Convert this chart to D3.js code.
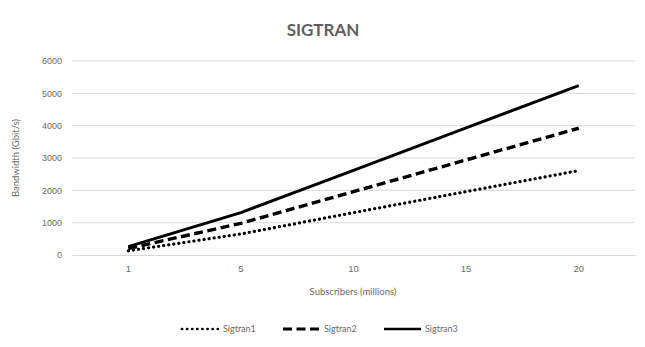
<!DOCTYPE html>
<html>
<head>
<meta charset="utf-8">
<script src="https://cdn.jsdelivr.net/npm/d3@7"></script>
<style>
  html, body { margin: 0; padding: 0; background: #ffffff; }
  svg { display: block; font-family: Lato, "Open Sans", sans-serif; }
</style>
</head>
<body>
<svg id="chart" width="645" height="347"></svg>
<script>
// Subscribers (millions) on the category axis
const categories = ["1", "5", "10", "15", "20"];
// Bandwidth per scenario (Gbit/s)
const sigtran1 = [130, 650, 1310, 1960, 2610];
const sigtran2 = [200, 980, 1960, 2940, 3920];
const sigtran3 = [260, 1310, 2620, 3930, 5240];
const yTicks = [0, 1000, 2000, 3000, 4000, 5000, 6000];
const seriesNames = ["Sigtran1", "Sigtran2", "Sigtran3"];

const series = [
  { name: seriesNames[0], values: sigtran1, dash: "0.1,5", width: 3.2, cap: "round" },
  { name: seriesNames[1], values: sigtran2, dash: "9,4.5", width: 3.4, cap: "butt" },
  { name: seriesNames[2], values: sigtran3, dash: null, width: 3, cap: "butt" }
];

const svg = d3.select("#chart");
const left = 72, plotRight = 635;

const x = d3.scaleBand().domain(categories).range([left, plotRight]);
const y = d3.scaleLinear().domain([0, 6000]).range([255, 61]);

const textColor = "#6b6b6b";

// Horizontal gridlines
svg.append("g")
  .selectAll("line")
  .data(yTicks.slice(1))
  .join("line")
  .attr("x1", left).attr("x2", plotRight)
  .attr("y1", d => y(d)).attr("y2", d => y(d))
  .attr("stroke", "#d9d9d9").attr("stroke-width", 1);

// Y axis labels
const yAxis = svg.append("g")
  .attr("transform", `translate(${left - 10},0)`)
  .call(d3.axisLeft(y).tickValues(yTicks).tickFormat(d3.format("d")).tickSize(0).tickPadding(0));
yAxis.select(".domain").remove();
yAxis.selectAll("text").attr("fill", textColor).style("font-size", "9px");

// X axis baseline and labels
const xAxis = svg.append("g")
  .attr("transform", `translate(0,${y(0)})`)
  .call(d3.axisBottom(x).tickSize(0).tickPadding(10));
xAxis.select(".domain").attr("stroke", "#d9d9d9").attr("stroke-width", 1);
xAxis.selectAll("text").attr("fill", textColor).style("font-size", "9.5px");

// Lines
const line = d3.line()
  .x((d, i) => x(categories[i]) + x.bandwidth() / 2)
  .y(d => y(d));

svg.append("g")
  .selectAll("path")
  .data(series)
  .join("path")
  .attr("d", d => line(d.values))
  .attr("fill", "none")
  .attr("stroke", "#000000")
  .attr("stroke-width", d => d.width)
  .attr("stroke-dasharray", d => d.dash)
  .attr("stroke-linecap", d => d.cap)
  .attr("stroke-linejoin", "round");

// Title
svg.append("text")
  .attr("x", 323).attr("y", 36)
  .attr("text-anchor", "middle")
  .attr("fill", "#5f5f5f")
  .style("font-size", "17px").style("font-weight", "bold")
  .text("SIGTRAN");

// Axis titles
svg.append("text")
  .attr("x", 353).attr("y", 295)
  .attr("text-anchor", "middle")
  .attr("fill", textColor)
  .style("font-size", "9.5px")
  .text("Subscribers (millions)");

svg.append("text")
  .attr("transform", "translate(19,158) rotate(-90)")
  .attr("text-anchor", "middle")
  .attr("fill", textColor)
  .style("font-size", "9.5px")
  .text("Bandwidth (Gbit/s)");

// Legend
const legendX = [182, 283, 384];
const legend = svg.append("g")
  .selectAll("g")
  .data(series)
  .join("g")
  .attr("transform", (d, i) => `translate(${legendX[i]},329)`);
legend.append("line")
  .attr("x1", 0).attr("x2", 37).attr("y1", 0).attr("y2", 0)
  .attr("stroke", "#000")
  .attr("stroke-width", d => d.width * 0.85)
  .attr("stroke-dasharray", d => d.dash)
  .attr("stroke-linecap", d => d.cap);
legend.append("text")
  .attr("x", 41).attr("y", 3)
  .attr("fill", textColor)
  .style("font-size", "9px")
  .text(d => d.name);
</script>
</body>
</html>
